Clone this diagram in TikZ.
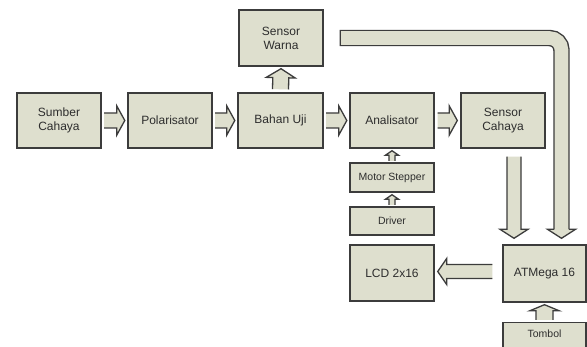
\documentclass[tikz,border=0pt]{standalone}
\usepackage{fontspec}
\setmainfont{Liberation Sans}
\usetikzlibrary{calc}
\definecolor{boxfill}{RGB}{222,223,206}
\definecolor{boxline}{RGB}{60,60,60}
\definecolor{txt}{RGB}{45,45,45}
\tikzset{
  box/.style={draw=boxline, fill=boxfill, line width=1.4pt, align=center,
    text=txt, font=\fontsize{12}{14}\selectfont, inner sep=0pt},
  smallbox/.style={box, font=\fontsize{10.5}{12}\selectfont},
  arrowfill/.style={fill=boxfill},
  arrowline/.style={draw=boxline, line width=1.3pt},
}
\newcommand{\blockarrow}[5]{% start, tip, shaft half width, head half width, head length
  \coordinate (ba-H) at ($(#2)!#5!(#1)$);
  \fill[arrowfill] ($(#1)!#3!-90:(#2)$) -- ($(ba-H)!#3!-90:(#2)$) -- ($(ba-H)!#4!-90:(#2)$) -- (#2)
     -- ($(ba-H)!#4!90:(#2)$) -- ($(ba-H)!#3!90:(#2)$) -- ($(#1)!#3!90:(#2)$) -- cycle;
  \draw[arrowline] ($(#1)!#3!-90:(#2)$) -- ($(ba-H)!#3!-90:(#2)$) -- ($(ba-H)!#4!-90:(#2)$) -- (#2)
     -- ($(ba-H)!#4!90:(#2)$) -- ($(ba-H)!#3!90:(#2)$) -- ($(#1)!#3!90:(#2)$);
}
\begin{document}
\begin{tikzpicture}[x=1pt,y=-1pt]
\clip (0,0) rectangle (587,347);
\fill[white] (0,0) rectangle (587,347);

% nodes
\node[box, minimum width=84pt, minimum height=55pt] (sumber) at (59,120.5) {Sumber\\Cahaya};
\node[box, minimum width=84pt, minimum height=55pt] (polar) at (170,120.5) {Polarisator};
\node[box, minimum width=85pt, minimum height=55pt] (bahan) at (280.5,120.5) {Bahan Uji};
\node[box, minimum width=84pt, minimum height=55pt] (analis) at (392,120.5) {Analisator};
\node[box, minimum width=84pt, minimum height=55pt] (senscah) at (503,120.5) {Sensor\\Cahaya};
\node[box, minimum width=84pt, minimum height=56pt] (senswarna) at (281,38) {Sensor\\Warna};
\node[smallbox, minimum width=84pt, minimum height=29pt] (motor) at (392,177.5) {Motor Stepper};
\node[smallbox, minimum width=84pt, minimum height=28pt] (driver) at (392,221) {Driver};
\node[box, minimum width=84pt, minimum height=56pt] (lcd) at (392,273) {LCD 2x16};
\node[box, minimum width=83pt, minimum height=57pt] (atm) at (544.5,273.5) {ATMega 16};
\node[smallbox, minimum width=83pt, text height=15pt, text depth=31pt, anchor=north] (tombol) at (544.5,322) {Tombol};

% horizontal chain
\coordinate (a1s) at ([xshift=2.5pt]sumber.east);
\coordinate (a1e) at ([xshift=-2.5pt]polar.west);
\blockarrow{a1s}{a1e}{7.5pt}{14.5pt}{8pt}
\coordinate (a2s) at ([xshift=2.5pt]polar.east);
\coordinate (a2e) at ([xshift=-2.5pt]bahan.west);
\blockarrow{a2s}{a2e}{7.5pt}{14.5pt}{8pt}
\coordinate (a3s) at ([xshift=2.5pt]bahan.east);
\coordinate (a3e) at ([xshift=-2.5pt]analis.west);
\blockarrow{a3s}{a3e}{7.5pt}{14.5pt}{8pt}
\coordinate (a4s) at ([xshift=3pt]analis.east);
\coordinate (a4e) at ([xshift=-3pt]senscah.west);
\blockarrow{a4s}{a4e}{7.5pt}{14.5pt}{8pt}

% bahan -> sensor warna
\coordinate (a5s) at ([yshift=3pt]bahan.north);
\coordinate (a5e) at ([yshift=-2pt]senswarna.south);
\blockarrow{a5s}{a5e}{8pt}{14.5pt}{9pt}

% motor -> analisator, driver -> motor
\coordinate (a6s) at ([yshift=1.5pt]motor.north);
\coordinate (a6e) at ([yshift=-2pt]analis.south);
\blockarrow{a6s}{a6e}{3pt}{6.5pt}{4.5pt}
\coordinate (a7s) at ([yshift=1.5pt]driver.north);
\coordinate (a7e) at ([yshift=-2pt]motor.south);
\blockarrow{a7s}{a7e}{3pt}{6.5pt}{4.5pt}

% sensor cahaya -> atmega
\coordinate (atmtop) at ([yshift=6pt]atm.north);
\coordinate (a8s) at ([xshift=11pt,yshift=-8pt]senscah.south);
\coordinate (a8e) at (a8s |- atmtop);
\blockarrow{a8s}{a8e}{7pt}{14pt}{9pt}

% sensor warna -> atmega (pipe)
\coordinate (p0) at ([xshift=16pt]senswarna.east);
\coordinate (p2) at ([xshift=17pt,yshift=15pt]atm.north);
\coordinate (p3) at ([xshift=17pt,yshift=6pt]atm.north);
\draw[boxline, line width=16.4pt, rounded corners=12pt] (p0) -- (p0 -| p2) -- ([yshift=-1pt]p2);
\draw[boxfill, line width=13.6pt, rounded corners=12pt, shorten <=1.4pt] (p0) -- (p0 -| p2) -- ([yshift=-1pt]p2);
\blockarrow{p2}{p3}{7.5pt}{14pt}{9pt}

% atmega -> lcd
\coordinate (lcdright) at ([xshift=3pt]lcd.east);
\coordinate (a9s) at ([xshift=-10pt,yshift=2pt]atm.west);
\coordinate (a9e) at (a9s -| lcdright);
\blockarrow{a9s}{a9e}{7pt}{13pt}{9pt}

% tombol -> atmega
\coordinate (a10s) at ([yshift=2pt]tombol.north);
\coordinate (a10e) at ([yshift=-2pt]atm.south);
\blockarrow{a10s}{a10e}{8.5pt}{14.5pt}{6pt}
\end{tikzpicture}
\end{document}
